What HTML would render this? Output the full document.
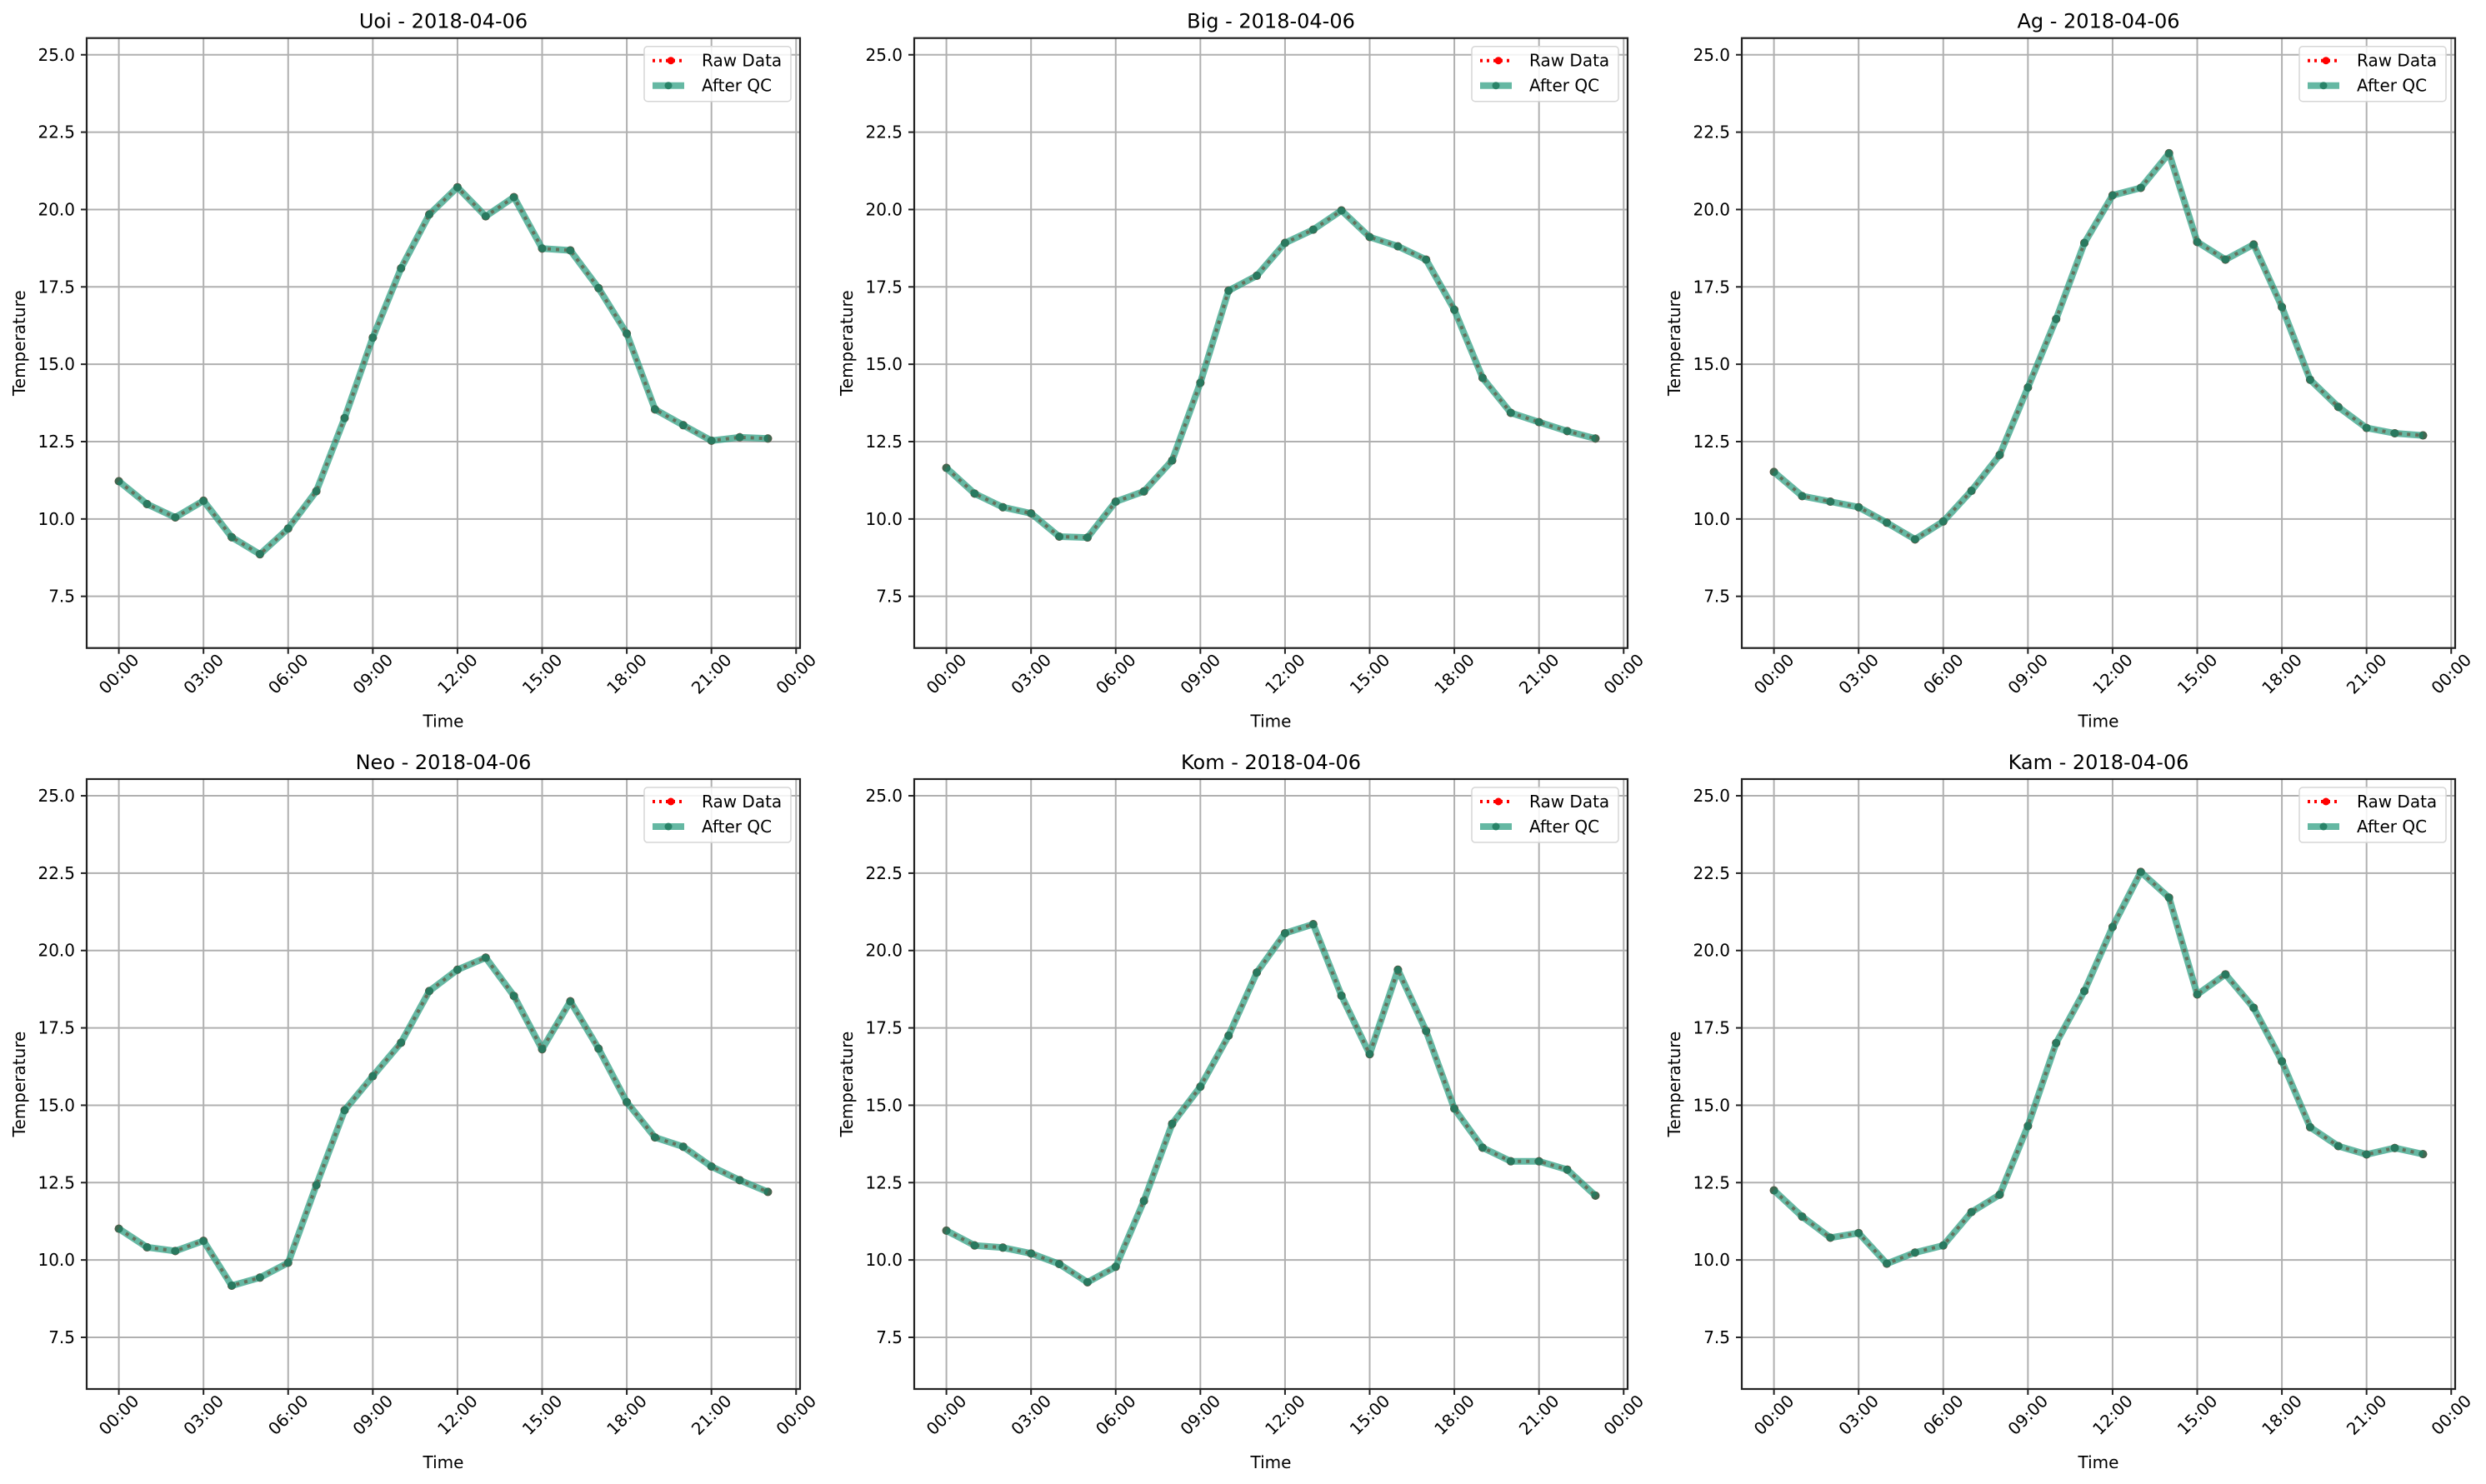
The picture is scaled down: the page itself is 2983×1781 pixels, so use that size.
<!DOCTYPE html>
<html><head><meta charset="utf-8"><style>
html,body{margin:0;padding:0;background:#fff;}
svg{display:block;font-family:"DejaVu Sans","Liberation Sans",sans-serif;}
</style></head><body>
<svg id="fig" xmlns="http://www.w3.org/2000/svg" width="2983" height="1781" viewBox="0 0 2983 1781">
<rect width="2983" height="1781" fill="#fff"/>
</svg>
<script>
const stations = ["Uoi","Big","Ag","Neo","Kom","Kam"];
const dateLabel = "2018-04-06";
const hours = [0,1,2,3,4,5,6,7,8,9,10,11,12,13,14,15,16,17,18,19,20,21,22,23];
const uoi = [11.22,10.48,10.05,10.59,9.41,8.86,9.69,10.90,13.26,15.86,18.10,19.84,20.72,19.78,20.40,18.74,18.68,17.46,15.99,13.54,13.03,12.53,12.64,12.60];
const big = [11.65,10.82,10.38,10.18,9.43,9.40,10.56,10.89,11.89,14.40,17.38,17.86,18.92,19.35,19.97,19.11,18.81,18.38,16.76,14.56,13.43,13.13,12.84,12.60];
const ag  = [11.52,10.74,10.56,10.38,9.88,9.34,9.92,10.91,12.07,14.25,16.46,18.92,20.46,20.70,21.82,18.95,18.38,18.87,16.85,14.50,13.62,12.94,12.77,12.70];
const neo = [11.01,10.41,10.29,10.62,9.17,9.43,9.91,12.42,14.84,15.94,17.02,18.69,19.38,19.77,18.53,16.81,18.36,16.83,15.10,13.96,13.66,13.02,12.58,12.20];
const kom = [10.95,10.47,10.40,10.21,9.87,9.28,9.78,11.91,14.40,15.60,17.25,19.29,20.56,20.85,18.54,16.65,19.38,17.40,14.89,13.63,13.19,13.19,12.92,12.08];
const kam = [12.25,11.40,10.72,10.87,9.88,10.24,10.47,11.55,12.11,14.33,17.01,18.69,20.76,22.54,21.71,18.58,19.23,18.15,16.42,14.29,13.68,13.41,13.62,13.42];
const yTicks = [7.5,10.0,12.5,15.0,17.5,20.0,22.5,25.0];
const xTickHours = [0,3,6,9,12,15,18,21,24];
const xTickLabels = ["00:00","03:00","06:00","09:00","12:00","15:00","18:00","21:00","00:00"];
const allSeries = [uoi,big,ag,neo,kom,kam];

const NS = "http://www.w3.org/2000/svg";
const fig = document.getElementById("fig");
function mk(tag, attrs, parent){
  const e = document.createElementNS(NS, tag);
  for (const k in attrs) e.setAttribute(k, attrs[k]);
  (parent||fig).appendChild(e);
  return e;
}
const colX = [104,1097,2090], rowY = [45.7,935];
const W = 856, H = 732;
const yMin = 5.83, yMax = 25.54, xMin = -1.14, xMax = 24.14;

allSeries.forEach((vals, i) => {
  const L = colX[i%3], T = rowY[Math.floor(i/3)];
  const sx = h => L + (h - xMin) / (xMax - xMin) * W;
  const sy = v => T + (yMax - v) / (yMax - yMin) * H;
  const g = mk("g", {});
  
  
  yTicks.forEach(t => {
    const ln = mk("line", {x1:L, x2:L+W, y1:sy(t), y2:sy(t), stroke:"#b0b0b0", "stroke-width":2}, g);
    
    
    const tk = mk("line", {x1:L-7, x2:L, y1:sy(t), y2:sy(t), stroke:"#222", "stroke-width":2}, g);
    
    
    const tx = mk("text", {x:L-14, y:sy(t)+7, "text-anchor":"end", "font-size":20, fill:"#000"}, g);
    tx.textContent = t.toFixed(1);
    
    
  });
  xTickHours.forEach((h, k) => {
    const ln = mk("line", {x1:sx(h), x2:sx(h), y1:T, y2:T+H, stroke:"#b0b0b0", "stroke-width":2}, g);
    
    
    const tk = mk("line", {x1:sx(h), x2:sx(h), y1:T+H, y2:T+H+7, stroke:"#222", "stroke-width":2}, g);
    
    
    const cx = sx(h), cy = T+H+31;
    const tx = mk("text", {x:cx, y:cy, "text-anchor":"middle", "dominant-baseline":"central", "font-size":20, fill:"#000", transform:`rotate(-45 ${cx} ${cy})`}, g);
    tx.textContent = xTickLabels[k];
    
    
  });
  const pts = hours.map((h, k) => sx(h).toFixed(1) + "," + sy(vals[k]).toFixed(1)).join(" ");
  const raw = mk("polyline", {points:pts, fill:"none", stroke:"#ff0000", "stroke-width":4, "stroke-dasharray":"4 6"}, g);
  
  
  hours.forEach((h, k) => {
    const c = mk("circle", {cx:sx(h), cy:sy(vals[k]), r:5, fill:"#ff0000"}, g);
    
    
  });
  const qc = mk("polyline", {points:pts, fill:"none", stroke:"#2a9d7f", "stroke-width":8, "stroke-opacity":0.72, "stroke-linejoin":"round"}, g);
  
  
  hours.forEach((h, k) => {
    const c = mk("circle", {cx:sx(h), cy:sy(vals[k]), r:5, fill:"#1f7a5f", "fill-opacity":0.85}, g);
    
    
  });
  const fr = mk("rect", {x:L, y:T, width:W, height:H, fill:"none", stroke:"#222", "stroke-width":2.2}, g);
  
  
  const ti = mk("text", {x:L+W/2, y:T-12, "text-anchor":"middle", "font-size":24, fill:"#000"}, g);
  ti.textContent = stations[i] + " - " + dateLabel;
  
  
  const xl = mk("text", {x:L+W/2, y:T+H+95, "text-anchor":"middle", "font-size":20, fill:"#000"}, g);
  xl.textContent = "Time";
  
  
  const yx = L-81, yy = T+H/2;
  const yl = mk("text", {x:yx, y:yy, "text-anchor":"middle", "dominant-baseline":"central", "font-size":20, fill:"#000", transform:`rotate(-90 ${yx} ${yy})`}, g);
  yl.textContent = "Temperature";
  
  
  const lx = L+W-187, ly = T+10;
  const lg = mk("g", {}, g);
  
  
  mk("rect", {x:lx, y:ly, width:176, height:66, rx:4, fill:"#fff", "fill-opacity":0.85, stroke:"#d6d6d6", "stroke-width":1.5}, lg);
  const e1 = mk("g", {}, lg);
  
  
  mk("line", {x1:lx+10, x2:lx+48, y1:ly+17, y2:ly+17, stroke:"#ff0000", "stroke-width":4, "stroke-dasharray":"3 5"}, e1);
  mk("circle", {cx:lx+32, cy:ly+17, r:4.5, fill:"#ff0000"}, e1);
  const t1 = mk("text", {x:lx+69, y:ly+24, "font-size":20, fill:"#000"}, e1);
  t1.textContent = "Raw Data";
  const e2 = mk("g", {}, lg);
  
  
  mk("line", {x1:lx+10, x2:lx+48, y1:ly+47, y2:ly+47, stroke:"#2a9d7f", "stroke-width":8, "stroke-opacity":0.72}, e2);
  mk("circle", {cx:lx+29, cy:ly+47, r:4.5, fill:"#1f7a5f", "fill-opacity":0.85}, e2);
  const t2 = mk("text", {x:lx+69, y:ly+54, "font-size":20, fill:"#000"}, e2);
  t2.textContent = "After QC";
});
</script>
</body></html>
